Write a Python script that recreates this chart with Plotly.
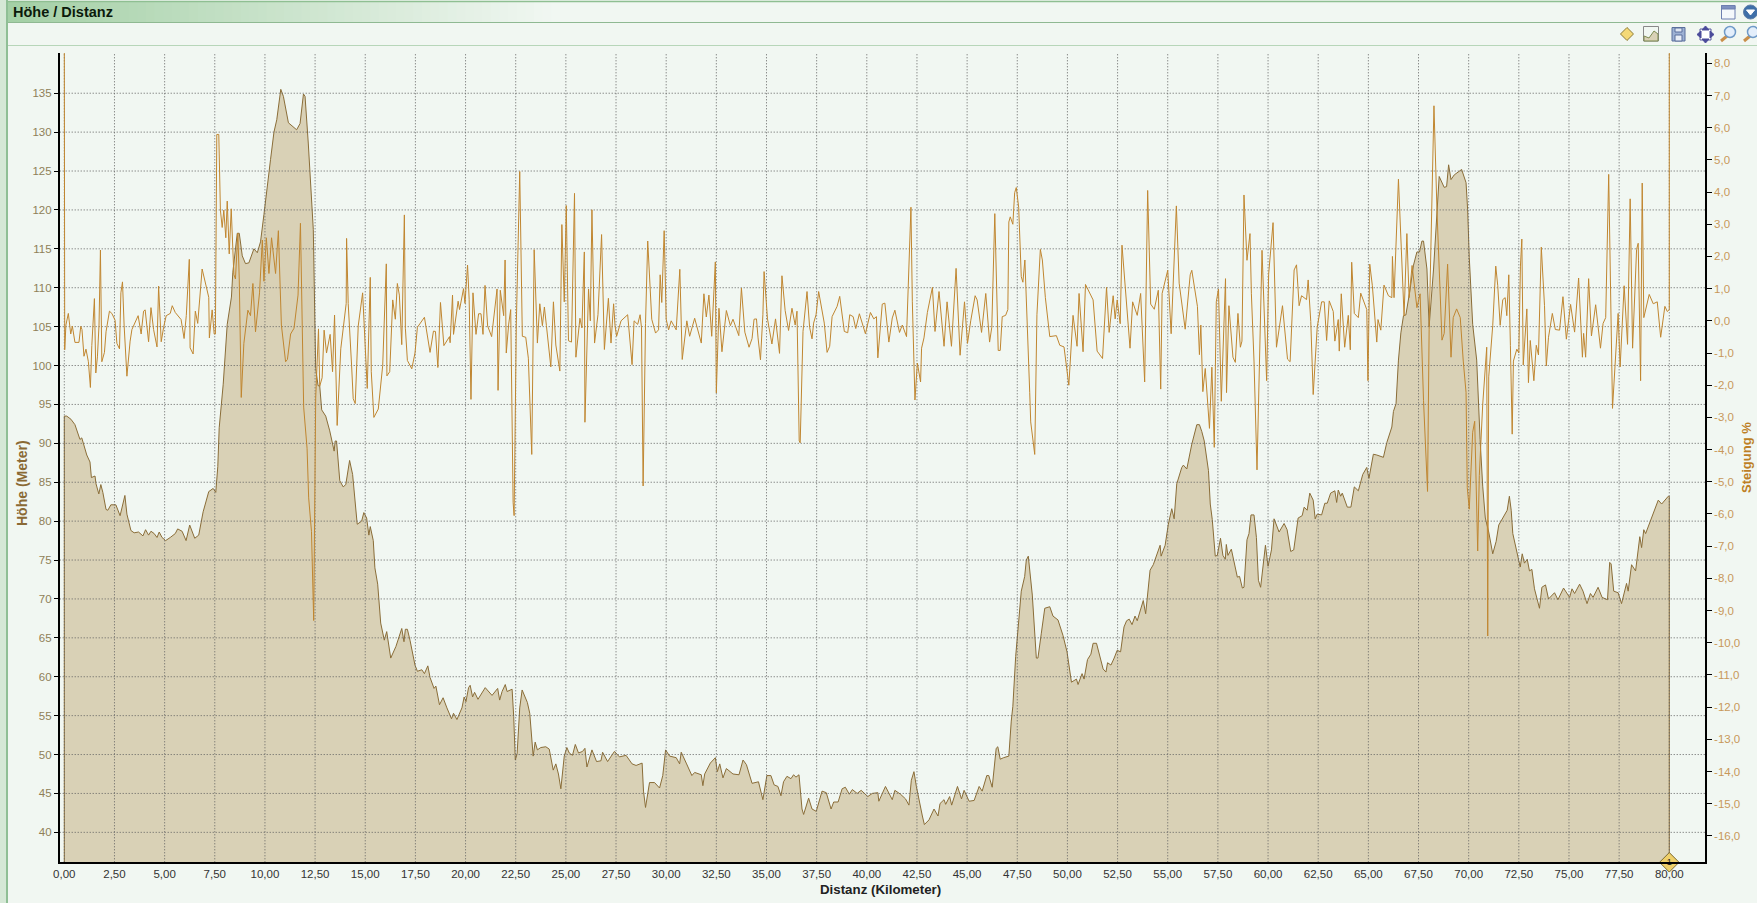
import plotly.graph_objects as go

# ---------- data ----------
elevation_km = [
0,.12,.33,.53,.78,.87,1.12,1.28,1.35,1.53,
1.58,1.72,1.82,1.92,2.08,2.17,2.32,2.57,2.78,3.02,
3.12,3.32,3.48,3.7,3.92,4.05,4.2,4.32,4.48,4.62,
4.73,4.87,5.05,5.28,5.53,5.65,5.87,6.07,6.25,6.5,
6.7,6.92,7.2,7.42,7.55,7.65,7.72,7.92,8.12,8.33,
8.4,8.62,8.72,8.87,9.03,9.2,9.45,9.62,9.78,9.95,
10.05,10.28,10.45,10.59,10.79,10.92,11.17,11.58,11.75,11.92,
12,12.16,12.41,12.47,12.53,12.65,12.73,12.83,13.03,13.23,
13.35,13.45,13.5,13.57,13.73,13.9,14.03,14.22,14.37,14.6,
14.82,14.93,15.07,15.18,15.25,15.4,15.48,15.62,15.77,15.95,
16.07,16.27,16.53,16.82,16.93,17,17.1,17.23,17.48,17.6,
17.82,17.95,18.12,18.23,18.43,18.52,18.7,18.88,19.07,19.3,
19.4,19.57,19.82,19.93,20.02,20.15,20.23,20.35,20.45,20.62,
20.98,21.32,21.6,21.7,21.82,21.98,22.07,22.32,22.4,22.48,
22.57,22.7,22.82,23.08,23.2,23.37,23.47,23.58,23.75,24,
24.17,24.37,24.5,24.63,24.75,24.92,25.05,25.17,25.33,25.47,
25.63,25.83,25.95,26.05,26.3,26.53,26.75,26.83,27.08,27.42,
27.67,28,28.3,28.5,28.8,28.87,28.97,29.17,29.42,29.67,
29.83,29.97,30.17,30.5,30.67,30.75,31,31.28,31.42,31.75,
31.83,31.92,32.2,32.45,32.55,32.67,32.83,33,33.33,33.63,
33.83,34,34.28,34.42,34.6,34.82,35.02,35.22,35.38,35.57,
35.72,35.85,36.02,36.22,36.35,36.47,36.62,36.77,36.85,37.1,
37.27,37.48,37.77,37.98,38.22,38.35,38.57,38.77,38.93,39.13,
39.28,39.52,39.72,40.05,40.27,40.55,40.6,40.93,41.27,41.4,
41.68,41.93,42.1,42.22,42.35,42.47,42.68,42.77,42.87,43.1,
43.35,43.55,43.65,43.85,43.93,44.13,44.23,44.52,44.72,44.85,
45.1,45.35,45.6,45.75,45.98,46.08,46.25,46.45,46.53,46.65,
46.82,47.08,47.2,47.28,47.42,47.53,47.7,47.87,47.95,48.05,
48.12,48.25,48.45,48.53,48.7,48.87,49.12,49.28,49.53,49.78,
49.98,50.2,50.45,50.53,50.73,50.83,51,51.17,51.28,51.45,
51.78,51.92,52,52.17,52.33,52.48,52.65,52.82,52.95,53.08,
53.22,53.37,53.48,53.78,53.9,54,54.12,54.28,54.62,54.67,
54.87,55.03,55.2,55.32,55.45,55.7,55.78,55.95,56.2,56.45,
56.58,56.7,56.82,57.03,57.12,57.22,57.37,57.47,57.63,57.75,
57.87,57.92,58,58.17,58.33,58.47,58.58,58.72,58.8,58.95,
59.05,59.15,59.3,59.42,59.52,59.63,59.87,60,60.17,60.3,
60.55,60.8,60.95,61.13,61.28,61.5,61.7,61.8,61.95,62.08,
62.25,62.35,62.45,62.67,62.83,62.95,63.12,63.33,63.42,63.5,
63.62,63.7,63.95,64.13,64.3,64.5,64.72,64.92,65.03,65.25,
65.42,65.75,65.92,66.17,66.25,66.38,66.5,66.62,66.75,66.87,
67.05,67.25,67.42,67.55,67.67,67.75,67.92,68.03,68.25,68.42,
68.53,68.78,68.9,69,69.12,69.28,69.65,69.87,69.95,70.03,
70.2,70.4,70.5,70.57,70.7,70.83,71,71.2,71.37,71.5,
71.7,71.92,72.03,72.12,72.2,72.45,72.57,72.67,72.78,72.92,
73.03,73.15,73.28,73.53,73.65,73.83,73.98,74.28,74.45,74.73,
75.03,75.15,75.28,75.53,75.7,75.9,76.07,76.2,76.45,76.65,
76.92,77.03,77.1,77.23,77.45,77.62,77.87,77.95,78.12,78.32,
78.53,78.62,78.73,78.82,79.12,79.45,79.62,79.95,80]
elevation_m = [
93.5,93.5,93.1,92.4,90.5,90.7,88.5,87.6,85.6,85.8,
84.8,83.5,84.7,83.7,81.5,81.4,82.1,82.1,80.7,83.3,
80.9,78.8,78.5,78.6,78.1,78.9,78.2,78.7,78.4,77.9,
78.6,77.9,77.5,77.9,78.4,79,78.7,77.5,79.5,77.8,
78.2,81.2,83.8,84.2,83.7,87,92,97.6,105.3,108.8,
112,117,117,114.1,113.1,113.2,115,114.5,115.9,119.4,
121.8,126.5,130,131.6,135.5,134.6,131.2,130.3,131.1,134.9,
134.6,128.6,117.5,106.5,99.6,97.4,97.4,94.3,93.5,91.6,
90,89,90.3,90.3,85.2,84.4,84.7,87.8,86,79.6,
80,81.1,80.4,78.2,79.3,77.5,74,71.9,66.9,64.7,
65.8,62.4,63.9,66.2,64.5,66.1,66.1,64.7,61.5,60.7,
60.9,60.4,61.4,59.9,58.5,58.8,56.4,57.3,56,54.6,
55.3,54.5,56,57.4,56.8,58.6,58.9,57.4,58,57.1,
58.6,57.6,58.5,57,58.1,59,58.1,58.4,54.9,49.3,
50.1,56,58.3,56.7,55.3,49.8,51.6,50.6,50.9,51,
50.7,48,48.8,47.5,45.6,49.8,50.9,50.2,49.9,51.3,
50.2,50.4,50.8,48.4,50.6,49.1,49.2,50.3,49.1,50.4,
49.7,49.9,48.8,48.6,48.9,45.3,43.2,46.4,46.4,45.7,
47.3,50.6,49.8,49.6,48.8,50.3,48.9,47.3,47.7,47.4,
46,47.5,48.9,49.6,47.8,48.8,47,48.2,47.5,47.4,
49.3,48.7,46.3,46.4,46.5,44.2,47.3,47.3,46.1,45.9,
44.7,46.5,47.2,46.9,47.4,47.1,47.4,43,42.3,44.4,
43,42.7,45.3,45.1,43,43.9,43.9,45.6,45.8,44.9,
45.5,45,45.4,44.6,45,45.1,44,45.9,44.2,45.4,
44.9,44.3,43.5,46.7,47.8,45.9,43,42.1,41,41.6,
43,42.1,43.7,44.2,43.6,44.6,43.5,45.9,44.3,45.4,
44,44.1,45.9,45.3,47.3,47.3,45.8,50.8,51,49.4,
49.6,49.8,54.3,56.2,62.6,66.4,71,72.9,75,75.5,
73.4,70.5,62.4,62.4,65.6,68.8,69,67.8,67.3,65.3,
63.2,59.3,59.7,59,60.4,59.7,62.2,62.9,64.3,64.3,
61,60.6,61.8,61.5,62.4,63.4,63.2,66.4,67.2,67.4,
66.7,67.8,67.2,69.8,68.1,70.5,73.7,74.4,76.9,75.5,
76.9,79.6,81.6,80.3,84.8,86.9,87.2,86.7,89.9,92.4,
92.4,91.5,90.3,86.5,82.2,80.2,75.5,75.6,77.8,75.6,
75.1,77,75.6,76.4,74.3,72.8,72.9,71.4,71.5,77.6,
78.4,80.8,80.8,77.9,72.4,71.5,76.9,74.2,76.3,80.3,
78.6,79.7,78.9,76.1,76.3,80.4,80.7,81.8,81.4,83.6,
82.7,80.3,80.9,80.8,82.3,82.3,83.6,83.9,82.4,84,
83.2,83.6,81.8,81.8,84.4,83.9,86,86.9,85.5,88.6,
88.5,88.2,90.1,92.1,94.1,95.1,100.7,104.2,106.4,106.5,
109.3,112.9,114.6,114.6,116,116,112.4,105,112.4,120,
124.3,122.9,123,125.8,123.9,124.5,125.2,123.5,120,113.9,
105.3,100.7,93.8,90.5,84.5,80.4,78.6,75.8,77.4,79.5,
80.4,81.4,83.2,81.4,78.4,75.6,74.1,75.8,74.6,75.1,
73.6,73.8,71.3,68.8,71.5,71.8,70,70.8,69.9,71.4,
70.2,71.3,70.7,71.9,71,69.4,70.7,70.2,71.5,70.2,
69.9,74.7,74.5,71,70.8,69.4,72,71,74.4,73.6,
78,76.6,78.9,78.4,80.4,82.7,82.2,83.2,83.2]

grade_km = [
0,.02,.08,.2,.32,.4,.53,.73,.82,.88,
.98,1.08,1.2,1.3,1.37,1.42,1.5,1.57,1.65,1.73,
1.77,1.8,1.87,2,2.08,2.25,2.37,2.53,2.62,2.75,
2.82,2.9,2.98,3.12,3.28,3.37,3.68,3.83,3.95,4.03,
4.2,4.32,4.45,4.62,4.7,4.83,4.95,5.08,5.28,5.38,
5.53,5.82,5.97,6.08,6.23,6.27,6.42,6.53,6.65,6.87,
7.2,7.23,7.37,7.47,7.53,7.6,7.7,7.78,7.87,7.95,
8.05,8.12,8.22,8.32,8.45,8.53,8.65,8.72,8.82,8.95,
9.15,9.28,9.4,9.53,9.73,9.87,9.95,10.07,10.2,10.33,
10.53,10.67,10.82,11.03,11.12,11.28,11.45,11.65,11.77,11.93,
12.1,12.18,12.32,12.43,12.53,12.67,12.73,12.85,12.95,13.07,
13.25,13.37,13.47,13.6,13.78,14.05,14.07,14.15,14.32,14.4,
14.5,14.65,14.87,15.1,15.25,15.3,15.43,15.65,15.87,16.05,
16.08,16.22,16.37,16.5,16.6,16.7,16.82,16.95,17,17.1,
17.32,17.48,17.6,17.95,18.23,18.4,18.5,18.62,18.75,18.92,
19.2,19.23,19.35,19.4,19.63,19.7,19.9,19.97,20.1,20.18,
20.27,20.37,20.52,20.65,20.77,20.87,20.97,21.1,21.3,21.57,
21.62,21.73,21.9,21.97,22.03,22.15,22.25,22.37,22.42,22.53,
22.7,22.83,23,23.13,23.3,23.42,23.58,23.7,23.83,23.93,
24.03,24.25,24.38,24.5,24.7,24.8,24.92,25.02,25.13,25.28,
25.43,25.5,25.7,25.8,25.92,25.95,26.13,26.22,26.3,26.43,
26.6,26.78,26.92,27.12,27.25,27.38,27.45,27.53,27.75,28.08,
28.3,28.4,28.58,28.7,28.77,28.85,28.97,29.08,29.28,29.47,
29.62,29.7,29.78,29.9,30,30.12,30.25,30.5,30.68,30.8,
31.03,31.17,31.42,31.75,31.88,32,32.13,32.27,32.45,32.5,
32.63,32.78,33,33.2,33.33,33.62,33.75,33.92,34.13,34.28,
34.38,34.5,34.58,34.7,34.82,34.88,35.05,35.27,35.45,35.65,
35.77,35.93,36.1,36.27,36.43,36.52,36.63,36.68,36.82,36.93,
37.02,37.15,37.27,37.35,37.47,37.6,37.88,38.02,38.15,38.27,
38.52,38.65,38.88,39.05,39.15,39.32,39.45,39.63,39.93,40.18,
40.35,40.48,40.55,40.77,40.9,41.1,41.27,41.4,41.63,41.77,
41.98,42.2,42.27,42.4,42.52,42.68,42.73,42.85,43.02,43.27,
43.4,43.6,43.85,44,44.22,44.45,44.65,44.87,45.02,45.18,
45.4,45.5,45.72,45.93,46.12,46.23,46.38,46.55,46.65,46.75,
46.92,47.03,47.08,47.15,47.28,47.37,47.45,47.57,47.7,47.78,
47.88,48.12,48.17,48.37,48.43,48.48,48.65,48.75,48.9,49.12,
49.45,49.62,49.83,50.07,50.28,50.48,50.58,50.78,50.9,51.28,
51.48,51.75,51.95,52.08,52.28,52.38,52.48,52.63,52.72,52.92,
53.12,53.25,53.48,53.65,53.85,54,54.15,54.33,54.53,54.65,
54.72,55,55.17,55.43,55.57,55.87,56.12,56.2,56.48,56.58,
56.65,56.75,56.87,57.08,57.2,57.32,57.42,57.53,57.67,57.88,
57.93,58.05,58.25,58.37,58.5,58.62,58.7,58.8,58.95,59.1,
59.17,59.3,59.45,59.7,59.93,60.03,60.25,60.42,60.72,60.97,
61.1,61.3,61.42,61.55,61.67,61.92,62,62.13,62.25,62.45,
62.67,62.8,62.92,63.05,63.25,63.33,63.5,63.55,63.65,63.82,
64,64.1,64.17,64.3,64.5,64.62,64.78,64.92,64.98,65.07,
65.2,65.42,65.48,65.62,65.78,66,66.17,66.2,66.28,66.5,
66.78,66.92,67.03,67.18,67.42,67.58,67.75,67.95,68.03,68.17,
68.27,68.42,68.67,68.78,68.95,69.12,69.23,69.4,69.58,69.73,
69.87,69.93,70.03,70.2,70.3,70.45,70.53,70.7,70.9,70.95,
71,71.2,71.35,71.45,71.57,71.7,71.82,71.9,72,72.08,
72.17,72.23,72.4,72.5,72.58,72.65,72.72,72.9,72.98,73.07,
73.25,73.37,73.48,73.62,73.78,73.87,73.98,74.17,74.32,74.53,
74.7,74.87,75.08,75.28,75.48,75.67,75.73,75.83,75.98,76.12,
76.33,76.57,76.7,76.83,76.98,77.17,77.45,77.55,77.75,77.92,
78.05,78.17,78.37,78.45,78.57,78.65,78.73,79,79.2,79.4,
79.57,79.78,79.9,80,80]
grade_pct = [
8.6,-.9,-.13,.23,-.41,-.16,-.67,-.67,-.17,-.27,
-1.1,-.88,-1.27,-2.07,-.77,-.13,.69,-1.62,-1.12,-.13,
2.2,2.2,-1.27,-.98,-.34,.3,.23,.02,-.7,-.87,
.87,1.21,-.13,-1.72,-.63,-.27,.16,-.41,.3,.34,
-.65,.41,-.27,-.81,1.08,-.65,-.2,.16,.23,.47,
.26,.04,-.55,.16,1.91,-.84,-1.03,.3,-.08,1.61,
.73,-.53,.34,-.41,-.41,5.79,5.79,3.44,2.9,3.44,
2.58,3.72,2.08,3.48,1.44,1.3,2.72,1.3,-2.38,-.7,
.33,.16,1.16,-.34,.87,2.51,1.23,2.58,1.47,2.58,
1.47,2.8,-.13,-1.27,-1.2,-.41,-.23,.8,3.03,-2.68,
-3.96,-5.5,-6.54,-9.31,-2.4,-.25,-2.03,-1.77,-.29,-1,
-.42,-1.58,.18,-3.25,-.87,.54,2.56,.54,-1.39,-2.42,
-2.57,-.16,.87,-2.1,1.35,-1.58,-3,-2.74,-1.39,1.77,
-1.71,-1.58,.65,.05,1.16,.8,-.74,3.29,-.23,-1.23,
-1.49,-1,-.2,.11,-.98,-.32,-.33,-1.45,.57,-.77,
-.49,-.68,.8,-.42,.61,.35,1,.54,1.73,.67,
-2.44,.87,-.42,.22,.22,-.42,1.1,-.16,-.49,.99,
-2.16,.95,.16,1.89,-1,-.1,.35,-5.64,-6.05,-.1,
4.64,-.48,-.51,-1.16,-4.15,2.21,-.69,.53,-.15,.43,
-.15,-1.43,.59,-.75,-1.56,2.99,.59,3.58,-.62,-.66,
3.96,-1.13,.08,-.22,2.14,-3.15,.99,0,3.45,-.69,
.19,2.68,-.89,.7,-.69,.53,-.15,-.48,0,.19,
-1.36,0,-.11,.19,-.22,-5.13,-.08,2.48,.05,-.38,
-.28,1.43,.57,2.8,.05,-.28,0,-.28,1.6,-1.2,
0,-.48,.08,-.69,.84,.12,.8,-.48,1.83,-2.24,
.39,-.96,.32,-.15,.05,-.46,1.02,-.35,-.82,-.55,
.05,.06,-.53,-1.21,.19,1.53,.06,-.72,.06,-1.01,
1.4,.32,-.3,.39,-.13,.3,-3.73,-3.79,-.33,.32,
.91,-.2,-.56,-.07,.19,.91,-.07,-.98,-.79,.13,
.45,.76,-.33,-.37,.19,.13,-.24,.22,-.4,.26,
.06,.13,-1.15,.52,.55,-.66,.09,.33,-.36,-.13,
-.49,3.53,.59,-2.46,-1.31,-1.9,-.85,-.53,.26,1.04,
-.33,.91,-.79,.59,-.79,1.63,-1.07,.59,-.7,0,
.78,.65,-.36,.85,-.66,-.2,3.33,-.92,-.92,.13,
.17,.35,3.07,3.23,3,3.98,4.14,3.53,1.37,1.2,
1.89,-2.22,-3.14,-4.15,-1.38,.19,2.22,1.89,.72,-.49,
-.46,-.76,-.81,-2,.17,-.79,.85,-.96,1.13,.65,
-.94,-1.17,1.04,-.36,.78,.06,.65,-.09,2.35,.65,
-.85,.59,.17,.85,-1.9,4.05,.52,.36,.95,-2.12,
.85,1.57,-.4,3.57,1.17,-.26,1.43,1.57,.45,-1.05,
-.13,-2.2,-1.48,-3.34,-1.44,-3.93,.59,.99,-2.5,1.31,
-2.23,.47,-1.13,-1.29,.23,-.82,-.63,3.91,1.88,2.71,
.84,-1.25,-4.63,2.19,-1.86,1.45,3.05,-.82,.47,-1.19,
-1.27,1.58,1.74,.47,.78,.66,1.27,-.02,-2.29,-.2,
.59,.59,-.61,.62,.29,-.63,.04,-.94,.84,-.82,
.17,-.9,1.82,.23,.1,.86,.59,.35,-1.86,1.76,
1.09,-.66,.04,-.29,1.11,.78,.72,2,.72,4.4,
.16,2.71,.72,1.72,.41,.84,-2.48,-5.3,-.27,3.91,
6.68,3.42,-.6,-.39,1.76,-1.13,.1,.37,.1,-1.25,
-2.23,-5.18,-5.85,-3.46,-3.12,-7.15,-4.81,-2.6,-.82,-9.79,
-1.74,-.14,1.7,1.09,-.14,.66,.72,.16,1.43,-.76,
-3.52,-1.25,-.88,-1,1.7,2.54,-1.37,.37,-1.92,-.61,
-1.86,-.76,-1.06,2.29,.47,-1.4,-.51,.23,-.27,-.29,
.75,-.57,.51,-.35,1.33,-1.13,-.39,-1.13,1.31,-.47,
.5,-.85,-.08,.1,4.55,-2.72,.23,-1.43,1.09,-.73,
3.79,-.85,2.22,2.41,-1.86,4.28,.1,.82,.53,.59,
-.51,.45,.29,.35,8.6]

x_ticks = [i * 2.5 for i in range(33)]
x_labels = [f"{v:.2f}".replace(".", ",") for v in x_ticks]
height_ticks = list(range(40, 140, 5))
grade_ticks = list(range(-16, 9))
grade_labels = [f"{v:.1f}".replace(".", ",") for v in grade_ticks]
assert len(elevation_km) == len(elevation_m) and len(grade_km) == len(grade_pct)

# ---------- page geometry ----------
W, H = 1757, 903
L, R, T, B = 59.7, 1705.0, 53.0, 862.3
def px(v): return v / W
def py(v): return 1 - v / H

X_RANGE = [-0.23, 81.78]
Y_RANGE = [36.15, 140.17]
Y2_RANGE = [-16.82, 8.32]
BG = "#f1f7f2"
FONT = "Liberation Sans"

fig = go.Figure()
fig.add_trace(go.Scatter(
    x=[0] + elevation_km + [80], y=[Y_RANGE[0]] + elevation_m + [Y_RANGE[0]],
    mode="lines", fill="tozeroy", fillcolor="#d9d1b6",
    line=dict(color="#8a6d38", width=1), hoverinfo="skip", name="Höhe"))

# dotted grid above the filled area but beneath the gradient line
gx, gy = [], []
for v in x_ticks:
    gx += [v, v, None]; gy += [Y_RANGE[0], Y_RANGE[1], None]
for v in height_ticks:
    gx += [X_RANGE[0], X_RANGE[1], None]; gy += [v, v, None]
fig.add_trace(go.Scatter(x=gx, y=gy, mode="lines", hoverinfo="skip",
                         line=dict(color="#606060", width=1, dash="1px,2px")))

fig.add_trace(go.Scatter(
    x=grade_km, y=grade_pct, yaxis="y2", mode="lines",
    line=dict(color="#c08630", width=1), hoverinfo="skip", name="Steigung"))
fig.add_trace(go.Scatter(
    x=[80], y=[Y2_RANGE[0]], yaxis="y2", mode="markers+text", text=["1"],
    textfont=dict(size=9, color="#222", family=FONT), textposition="middle center",
    marker=dict(symbol="diamond", size=15, color="#efd06a", line=dict(color="#7c6a30", width=1)),
    cliponaxis=False, hoverinfo="skip"))

# ---------- window chrome ----------
shapes = []
def rect(x0, y0, x1, y1, fill=None, line=None, lw=1, layer="below"):
    shapes.append(dict(type="rect", xref="paper", yref="paper", x0=px(x0), x1=px(x1),
                       y0=py(y0), y1=py(y1), fillcolor=fill, layer=layer,
                       line=dict(color=line, width=lw if line else 0)))
def hline(x0, x1, y, color, lw=1):
    shapes.append(dict(type="line", xref="paper", yref="paper", x0=px(x0), x1=px(x1),
                       y0=py(y), y1=py(y), layer="below", line=dict(color=color, width=lw)))
def circle(cx, cy, r, fill, line, lw=1):
    shapes.append(dict(type="circle", xref="paper", yref="paper", x0=px(cx - r), x1=px(cx + r),
                       y0=py(cy - r), y1=py(cy + r), fillcolor=fill, layer="above",
                       line=dict(color=line, width=lw)))
def poly(points, fill, line, lw=1):
    d = "M " + " L ".join(f"{px(a):.5f},{py(b):.5f}" for a, b in points) + " Z"
    shapes.append(dict(type="path", xref="paper", yref="paper", path=d, fillcolor=fill,
                       layer="above", line=dict(color=line, width=lw)))

start, end = (164, 208, 166), (241, 247, 242)
steps, gx0, gx1 = 64, 8, 560
for i in range(steps):
    t = i / (steps - 1)
    c = tuple(round(s + (e - s) * t) for s, e in zip(start, end))
    a = gx0 + (gx1 - gx0) * i / steps
    b = gx0 + (gx1 - gx0) * (i + 1) / steps + 1
    rect(a, 2, b, 22, fill=f"rgb{c}")
hline(0, W, 1.5, "#8fbf92", 1.5)
hline(8, W, 22.5, "#8fb992", 1)
hline(8, W, 45.5, "#b7d6b9", 1)
rect(0, 0, 6.5, H, fill="#d5e8d6")
rect(6, 0, 8, H, fill="#8fbf95")

# toolbar icons (drawn, not images)
poly([(1627, 27.5), (1633.5, 34), (1627, 40.5), (1620.5, 34)], "#f4d977", "#8c7a35")
rect(1643.5, 26.5, 1658.5, 41, fill="#f1f7f2", line="#888888", layer="above")
poly([(1644, 41), (1644, 36), (1649, 38), (1654, 31), (1658, 34), (1658, 41)], "#d9d1b6", "#7d8a50")
rect(1672, 27.5, 1685, 41, fill="#9db1d4", line="#5a6f9c", layer="above")
rect(1675, 35, 1682, 41, fill="#e9eef7", line="#5a6f9c", layer="above")
rect(1675, 28, 1682, 32, fill="#dfe6f3", line="#5a6f9c", layer="above")
rect(1700, 29, 1711, 40, fill="#ffffff", line="#5a5aa0", layer="above")
poly([(1705.5, 26), (1709, 30), (1702, 30)], "#4a4a9a", "#4a4a9a")
poly([(1705.5, 43), (1709, 39), (1702, 39)], "#4a4a9a", "#4a4a9a")
poly([(1697, 34.5), (1701, 31), (1701, 38)], "#4a4a9a", "#4a4a9a")
poly([(1714, 34.5), (1710, 31), (1710, 38)], "#4a4a9a", "#4a4a9a")
for cx in (1730, 1753):
    shapes.append(dict(type="line", xref="paper", yref="paper", x0=px(cx - 9), x1=px(cx - 3),
                       y0=py(41), y1=py(36), layer="above", line=dict(color="#c98f4a", width=3)))
    circle(cx, 32, 5.5, "#e3eefb", "#6f9ac8", 1.5)
rect(1721.5, 5.5, 1735, 19, fill="#f4f8fb", line="#6d7fb0", layer="above")
rect(1721.5, 5.5, 1735, 9, fill="#7f90c0", line="#6d7fb0", layer="above")
circle(1750.5, 12, 7, "#3f6fa8", "#5f7fa8", 1)
poly([(1746.5, 10), (1754.5, 10), (1750.5, 15)], "#ffffff", "#ffffff")

annotations = [
    dict(text="<b>Höhe / Distanz</b>", xref="paper", yref="paper", x=px(10.5), y=py(12),
         xanchor="left", yanchor="middle", showarrow=False,
         font=dict(family=FONT, size=14.5, color="#0b1a0b")),
    dict(text="<b>Distanz (Kilometer)</b>", xref="paper", yref="paper", x=px(881), y=py(889),
         xanchor="center", yanchor="middle", showarrow=False,
         font=dict(family=FONT, size=13.3, color="#222222")),
    dict(text="<b>Höhe (Meter)</b>", xref="paper", yref="paper", x=px(22), y=py(483), textangle=-90,
         xanchor="center", yanchor="middle", showarrow=False,
         font=dict(family=FONT, size=14, color="#8a6a35")),
    dict(text="<b>Steigung %</b>", xref="paper", yref="paper", x=px(1746), y=py(458), textangle=-90,
         xanchor="center", yanchor="middle", showarrow=False,
         font=dict(family=FONT, size=13, color="#bd7f25")),
]

fig.update_layout(
    width=W, height=H, autosize=False, showlegend=False,
    margin=dict(l=0, r=0, t=0, b=0, pad=0, autoexpand=False),
    paper_bgcolor=BG, plot_bgcolor=BG,
    font=dict(family=FONT, size=11),
    shapes=shapes, annotations=annotations,
    xaxis=dict(domain=[px(L), px(R)], range=X_RANGE, tickvals=x_ticks, ticktext=x_labels,
               automargin=False, showgrid=False, zeroline=False, showline=True,
               linecolor="#000", linewidth=1.5,
               ticks="", tickangle=0,
               tickfont=dict(size=11.5, color="#333333")),
    yaxis=dict(domain=[py(B), py(T)], range=Y_RANGE, tickvals=height_ticks,
               automargin=False, showgrid=False, zeroline=False, showline=True,
               linecolor="#000", linewidth=1.5,
               ticks="outside", ticklen=4, tickcolor="#000",
               tickfont=dict(size=11.5, color="#8f7f58")),
    yaxis2=dict(overlaying="y", side="right", range=Y2_RANGE, tickvals=grade_ticks, ticktext=grade_labels,
                automargin=False, showgrid=False, zeroline=False, showline=True,
                linecolor="#000", linewidth=1.5,
                ticks="outside", ticklen=5, tickcolor="#000",
                tickfont=dict(size=11.5, color="#c8975a")),
)
fig.write_html("out.html", config=dict(displayModeBar=False),
               post_script="document.body.style.margin='0';document.body.style.overflow='hidden';")
